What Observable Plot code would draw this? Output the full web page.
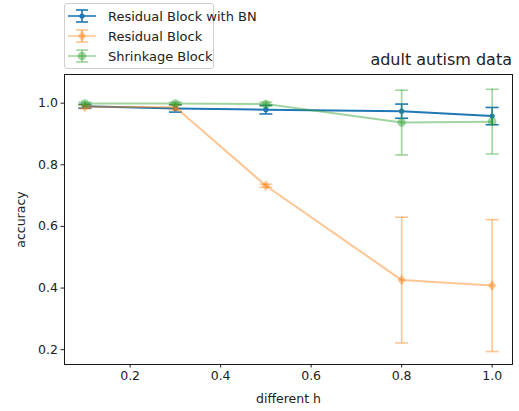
<!DOCTYPE html>
<html>
<head>
<meta charset="utf-8">
<script src="https://cdn.jsdelivr.net/npm/d3@7"></script>
<script src="https://cdn.jsdelivr.net/npm/@observablehq/plot@0.6"></script>
<style>
  body { margin: 0; background: white; font-family: "DejaVu Sans", sans-serif; }
  #wrap { position: relative; width: 519px; height: 411px; }
  #legend { position: absolute; left: 64px; top: 3px; width: 148px; height: 64px;
            border: 1px solid #d0d0d0; border-radius: 3px; background: rgba(255,255,255,0.85); }
  .row { position: absolute; left: 0; height: 20px; display: flex; align-items: center; }
  .row svg { margin-left: 2px; }
  .row span { margin-left: 11px; font-size: 13px; color: #222; white-space: nowrap; }
  #title { position: absolute; right: 7px; top: 50px; font-size: 16px; color: #222; white-space: nowrap; }
</style>
</head>
<body>
<div id="wrap">
  <div id="chart"></div>
  <div id="legend"></div>
  <div id="title">adult autism data</div>
</div>
<script>
// ---- data ----
const hs = [0.1, 0.3, 0.5, 0.8, 1.0];
const seriesNames = ["Residual Block with BN", "Residual Block", "Shrinkage Block"];
const bnMean  = [0.990, 0.983, 0.979, 0.974, 0.958];
const bnErr   = [0.006, 0.012, 0.014, 0.023, 0.028];
const resMean = [0.988, 0.987, 0.732, 0.426, 0.408];
const resErr  = [0.006, 0.008, 0.005, 0.204, 0.214];
const shrMean = [0.999, 0.999, 0.997, 0.937, 0.940];
const shrErr  = [0.004, 0.004, 0.006, 0.105, 0.105];
const xTicks = [0.2, 0.4, 0.6, 0.8, 1.0];
const yTicks = [0.2, 0.4, 0.6, 0.8, 1.0];

const colors = ["#1f77b4", "#ff7f0e", "#2ca02c"];
const opac = [1, 0.45, 0.45];

// custom symbols
const capSym = {draw(ctx, size) { const w = Math.sqrt(size / Math.PI); ctx.moveTo(-w, 0); ctx.lineTo(w, 0); }};
const thinDiamond = {draw(ctx, size) { const r = Math.sqrt(size / Math.PI); ctx.moveTo(0, -r); ctx.lineTo(r * 0.72, 0); ctx.lineTo(0, r); ctx.lineTo(-r * 0.72, 0); ctx.closePath(); }};

const means = [bnMean, resMean, shrMean];
const errs = [bnErr, resErr, shrErr];
const markers = [{symbol: "circle", r: 2.6}, {symbol: thinDiamond, r: 5.5}, {symbol: "circle", r: 4.3}];

const marks = [Plot.frame({stroke: "black", strokeWidth: 0.9})];
seriesNames.forEach((name, k) => {
  const rows = hs.map((h, i) => ({h, m: means[k][i], e: errs[k][i]}));
  const c = colors[k], o = opac[k];
  marks.push(
    Plot.ruleX(rows, {x: "h", y1: d => d.m - d.e, y2: d => d.m + d.e, stroke: c, strokeOpacity: o, strokeWidth: 1.6}),
    Plot.dot(rows, {x: "h", y: d => d.m + d.e, symbol: capSym, r: 6.5, stroke: c, strokeOpacity: o, strokeWidth: 1.6, fill: "none"}),
    Plot.dot(rows, {x: "h", y: d => d.m - d.e, symbol: capSym, r: 6.5, stroke: c, strokeOpacity: o, strokeWidth: 1.6, fill: "none"}),
    Plot.line(rows, {x: "h", y: "m", stroke: c, strokeOpacity: o, strokeWidth: 2}),
    Plot.dot(rows, {x: "h", y: "m", symbol: markers[k].symbol, r: markers[k].r, fill: c, fillOpacity: o, stroke: "none"})
  );
});

const chart = Plot.plot({
  width: 519, height: 411,
  marginLeft: 64, marginRight: 7, marginTop: 74, marginBottom: 47,
  style: {fontFamily: "DejaVu Sans", fontSize: "12.5px", color: "#222", background: "white", overflow: "visible"},
  x: {domain: [0.055, 1.045], ticks: xTicks, tickFormat: d3.format(".1f"), tickSize: 3.5, tickPadding: 3,
      label: "different h", labelAnchor: "center", labelOffset: 38, labelArrow: "none"},
  y: {domain: [0.152, 1.093], ticks: yTicks, tickFormat: d3.format(".1f"), tickSize: 3.5, tickPadding: 3,
      label: "accuracy", labelAnchor: "center", labelOffset: 48, labelArrow: "none"},
  marks
});
document.getElementById("chart").appendChild(chart);

// legend
const leg = document.getElementById("legend");
seriesNames.forEach((name, k) => {
  const row = document.createElement("div");
  row.className = "row";
  row.style.top = (2 + 20 * k) + "px";
  const c = colors[k], o = opac[k];
  let mk;
  if (k === 0) mk = `<circle cx="15" cy="10" r="2.6" fill="${c}"/>`;
  else if (k === 1) mk = `<path d="M15,4.5L19,10L15,15.5L11,10Z" fill="${c}" fill-opacity="${o}"/>`;
  else mk = `<circle cx="15" cy="10" r="4.3" fill="${c}" fill-opacity="${o}"/>`;
  row.innerHTML = `<svg width="30" height="20">
      <g stroke="${c}" stroke-opacity="${o}" stroke-width="1.6" fill="none">
        <path d="M1,10H29"/>
        <path d="M15,4V16"/>
        <path d="M9,4H21"/>
        <path d="M9,16H21"/>
      </g>${mk}</svg><span>${name}</span>`;
  leg.appendChild(row);
});
</script>
</body>
</html>
